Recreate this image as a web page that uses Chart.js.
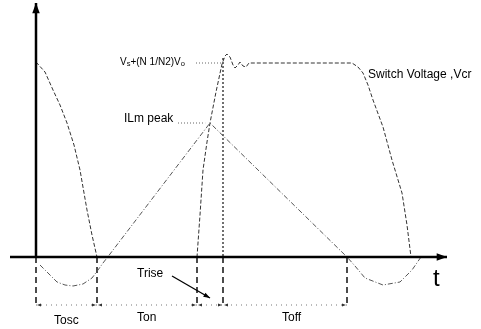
<!DOCTYPE html>
<html>
<head>
<meta charset="utf-8">
<script src="https://cdn.jsdelivr.net/npm/chart.js@4.4.1/dist/chart.umd.min.js"></script>
<style>
  body { margin: 0; background: #fff; }
  #wrap { width: 481px; height: 329px; }
</style>
</head>
<body>
<div id="wrap"><canvas id="wave"></canvas></div>
<script>
// switch voltage Vcr (time, volts)
const vcrTime = [0, 2.25, 4.25, 6, 7.75, 9.5, 11, 12.75, 14, 15.25, 40.25, 41, 41.75, 42.75, 43.5, 45, 46.5, 47.25, 47.75, 48.5, 49.25, 49.75, 50.5, 51, 51.75, 52.5, 53.25, 79, 80.5, 81.75, 83, 84.25, 86.75, 89, 91.5, 92.75, 93.75];
const vcrValue = [97.5, 92.5, 83.5, 76, 67, 56, 43.5, 23.5, 11, 0, 0, 21, 43.5, 57.5, 67, 82.5, 96.5, 100.5, 101.5, 100, 96, 94.5, 96, 97.5, 95.5, 95, 97, 97, 95, 92, 86, 78.5, 65, 48.5, 32, 16, 0];

// magnetising current ILm
const ilmTime = [1, 3, 5.25, 7.25, 9.25, 11.75, 14, 15.5, 16.75, 18.5, 43.5, 77.75, 79.75, 82.25, 86.75, 91, 94, 96.25];
const ilmValue = [-4, -8, -12.5, -14, -14.5, -13.5, -10.5, -6.5, -3, 1.5, 67, 0, -4.5, -10.5, -14, -12.5, -6.5, 0];

// interval boundaries and names
const markerTimes = [0, 15.25, 40.25, 46.75, 77.75];
const intervalNames = ['Tosc', 'Ton', 'Toff'];
const markerBottom = -24;
const vPeak = 101.5;

const toPts = (xs, ys) => xs.map((x, i) => ({ x: x, y: ys[i] }));

const datasets = [
  {
    data: toPts(vcrTime, vcrValue),
    borderColor: '#333', borderWidth: 1, borderDash: [4, 2]
  },
  {
    data: toPts(ilmTime, ilmValue),
    borderColor: '#555', borderWidth: 1, borderDash: [5, 2, 1, 2]
  },
  {
    data: [{ x: markerTimes[0], y: markerBottom }, { x: markerTimes[4], y: markerBottom }],
    borderColor: '#777', borderWidth: 1, borderDash: [1, 4]
  },
  {
    data: [{ x: markerTimes[3], y: vPeak - 2 }, { x: markerTimes[3], y: 0 }],
    borderColor: '#222', borderWidth: 1.3, borderDash: [2, 2]
  }
];
markerTimes.forEach(t => {
  datasets.push({
    data: [{ x: t, y: 0 }, { x: t, y: markerBottom }],
    borderColor: '#111', borderWidth: 1.5, borderDash: [6, 4]
  });
});

function arrow(ctx, x1, y1, x2, y2, size) {
  const a = Math.atan2(y2 - y1, x2 - x1);
  ctx.beginPath();
  ctx.moveTo(x1, y1);
  ctx.lineTo(x2, y2);
  ctx.stroke();
  ctx.beginPath();
  ctx.moveTo(x2, y2);
  ctx.lineTo(x2 - size * Math.cos(a - 0.35), y2 - size * Math.sin(a - 0.35));
  ctx.lineTo(x2 - size * Math.cos(a + 0.35), y2 - size * Math.sin(a + 0.35));
  ctx.closePath();
  ctx.fill();
}

function head(ctx, x, y, dir) {
  ctx.beginPath();
  ctx.moveTo(x, y);
  ctx.lineTo(x + dir * 4, y - 1.5);
  ctx.lineTo(x + dir * 4, y + 1.5);
  ctx.closePath();
  ctx.fill();
}

const drawing = {
  id: 'drawing',
  afterDatasetsDraw(chart) {
    const ctx = chart.ctx;
    const xs = chart.scales.x, ys = chart.scales.y;
    const px = v => xs.getPixelForValue(v);
    const py = v => ys.getPixelForValue(v);
    ctx.save();
    ctx.strokeStyle = '#000';
    ctx.fillStyle = '#000';
    ctx.setLineDash([]);
    // axes
    ctx.lineWidth = 2.5;
    arrow(ctx, px(-6.5), py(0), px(102.75), py(0), 11);
    arrow(ctx, px(0), py(0), px(0), py(127), 11);

    // small arrowheads on the interval line
    ctx.fillStyle = '#333';
    markerTimes.forEach((t, i) => {
      if (i > 0) head(ctx, px(t) - 1, py(markerBottom), -1);
      if (i < markerTimes.length - 1) head(ctx, px(t) + 1, py(markerBottom), 1);
    });

    // reference dotted lines to labels
    ctx.lineWidth = 1;
    ctx.strokeStyle = '#666';
    ctx.setLineDash([1, 2]);
    ctx.beginPath();
    ctx.moveTo(px(40), py(97));
    ctx.lineTo(px(46.5), py(97));
    ctx.moveTo(px(35.5), py(67));
    ctx.lineTo(px(42.3), py(67));
    ctx.stroke();
    ctx.setLineDash([]);

    // Trise arrow
    ctx.strokeStyle = '#000';
    ctx.fillStyle = '#000';
    ctx.lineWidth = 1.3;
    arrow(ctx, px(34), py(-9.5), px(43.5), py(-20.5), 7);

    // text
    ctx.textBaseline = 'middle';
    ctx.fillStyle = '#000';
    ctx.font = '12px "Liberation Sans", Arial, sans-serif';
    ctx.fillText('Switch Voltage ,Vcr', 368, 75);
    ctx.fillText('ILm peak', 124, 119);
    ctx.fillText('Trise', 137, 274);
    ctx.fillText(intervalNames[0], 54, 321);
    ctx.fillText(intervalNames[1], 137, 318);
    ctx.fillText(intervalNames[2], 282, 318);

    // Vs+(N1/N2)Vo with subscripts
    let x = 120;
    const yb = 62;
    const parts = [['V', 0], ['s', 1], ['+(N 1/N2)V', 0], ['o', 1]];
    parts.forEach(p => {
      ctx.font = (p[1] ? '7.5px' : '10px') + ' "Liberation Sans", Arial, sans-serif';
      ctx.fillText(p[0], x, yb + (p[1] ? 2 : 0));
      x += ctx.measureText(p[0]).width;
    });

    ctx.font = '24px "Liberation Sans", Arial, sans-serif';
    ctx.fillText('t', 433, 279);
    ctx.restore();
  }
};

new Chart(document.getElementById('wave'), {
  type: 'scatter',
  data: { datasets: datasets },
  options: {
    responsive: true,
    maintainAspectRatio: false,
    animation: false,
    showLine: true,
    layout: { padding: 0 },
    elements: { point: { radius: 0 }, line: { tension: 0 } },
    plugins: { legend: { display: false }, tooltip: { enabled: false } },
    scales: {
      x: { type: 'linear', min: -9, max: 111.25, display: false },
      y: { type: 'linear', min: -36, max: 128.5, display: false }
    }
  },
  plugins: [drawing]
});
</script>
</body>
</html>
